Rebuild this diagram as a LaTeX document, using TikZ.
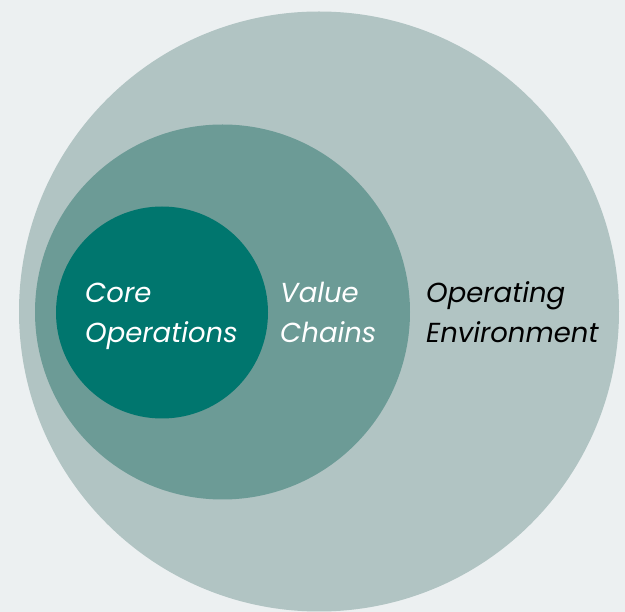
\documentclass[tikz,border=0pt]{standalone}
\usepackage{fontspec}
\setmainfont{Poppins}
\definecolor{fondo}{HTML}{ECF0F1}
\definecolor{entorno}{HTML}{B1C4C3}
\definecolor{cadena}{HTML}{6C9B96}
\definecolor{nucleo}{HTML}{00766E}
\begin{document}
\begin{tikzpicture}[x=1pt, y=-1pt,
  etiqueta/.style={anchor=base west, align=left, inner sep=0pt,
    font=\fontsize{27.5}{40}\selectfont\itshape}]
% Fondo y marco de la imagen
\fill[fondo] (0,0) rectangle (625,612);
\useasboundingbox (0,0) rectangle (625,612);

% Tres circulos anidados
\begin{scope}
\clip (0,0) rectangle (625,612);
\fill[entorno] (319,311.5) circle (300);
\end{scope}
\fill[cadena] (222.5,312) circle (187.5);
\fill[nucleo] (162,312.5) circle (106);

% Textos de cada nivel (base = ultima linea)
\node[etiqueta, white] (core) at (85,343) {Core\\Operations};
\node[etiqueta, white] (value) at (280,343) {Value\\Chains};
\node[etiqueta, black] (env) at (426,343) {Operating\\Environment};
\end{tikzpicture}
\end{document}
